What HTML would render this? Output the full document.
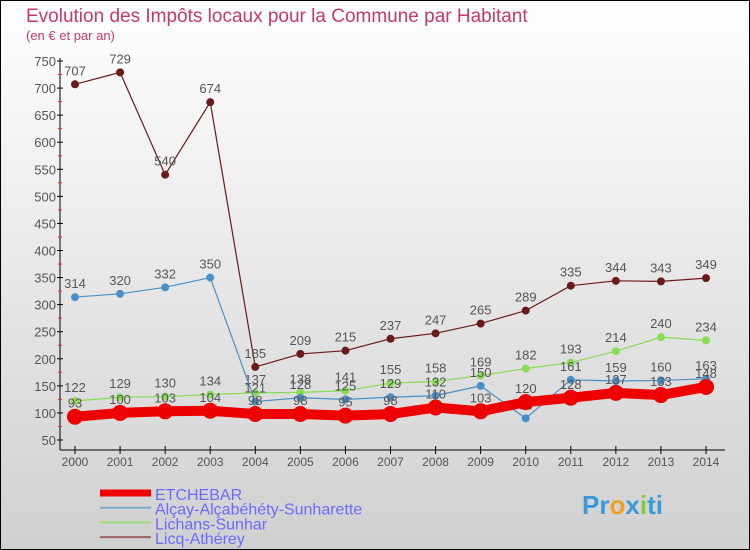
<!DOCTYPE html>
<html><head><meta charset="utf-8"><style>
body{margin:0}
svg{display:block;font-family:"Liberation Sans",sans-serif}
</style></head><body>
<svg id="c" width="750" height="550" xmlns="http://www.w3.org/2000/svg">
<defs><linearGradient id="bg" x1="0" y1="0" x2="0" y2="1"><stop offset="0" stop-color="#ffffff"/><stop offset="1" stop-color="#d0d0d0"/></linearGradient></defs>
<rect x="0" y="0" width="750" height="550" fill="url(#bg)" stroke="#000" stroke-width="2"/>
<text x="26" y="22" font-size="19" fill="#c8386a">Evolution des Impôts locaux pour la Commune par Habitant</text>
<text x="26" y="40" font-size="13" fill="#c8386a">(en € et par an)</text>
<g id="axes"></g><g id="series"></g><g id="legend"></g>
</svg>
<script>
const years=[2000,2001,2002,2003,2004,2005,2006,2007,2008,2009,2010,2011,2012,2013,2014];
const yTicks=[50,100,150,200,250,300,350,400,450,500,550,600,650,700,750];
const etchebar=[93,100,103,104,98,98,95,98,110,103,120,128,137,133,148];
const alcay=[314,320,332,350,121,128,125,129,132,150,90,161,159,160,163];
const lichans=[122,129,130,134,137,138,141,155,158,169,182,193,214,240,234];
const licq=[707,729,540,674,185,209,215,237,247,265,289,335,344,343,349];
const NS="http://www.w3.org/2000/svg";
const X=i=>75+i*(706-75)/(years.length-1);
const Y=v=>440-(v-50)*(379/700);
function mk(p,t,a){const e=document.createElementNS(NS,t);for(const k in a)e.setAttribute(k,a[k]);p.appendChild(e);return e;}
const ax=document.getElementById('axes');
let yl=mk(ax,'line',{x1:60,y1:58,x2:60,y2:450,stroke:'#000','stroke-width':1});


let xl=mk(ax,'line',{x1:60,y1:450,x2:725,y2:450,stroke:'#000','stroke-width':1});


yTicks.forEach((v,k)=>{
 mk(ax,'line',{x1:57,y1:Y(v),x2:63,y2:Y(v),stroke:'#000'});
 if(k<yTicks.length-1)mk(ax,'line',{x1:58,y1:Y(v+25),x2:62,y2:Y(v+25),stroke:'#e03030'});
 const t=mk(ax,'text',{x:56,y:Y(v)+5,'text-anchor':'end','font-size':13,fill:'#555'});t.textContent=v;
 
 
});
years.forEach((y,i)=>{
 mk(ax,'line',{x1:X(i),y1:446,x2:X(i),y2:454,stroke:'#000'});
 const t=mk(ax,'text',{x:X(i),y:466,'text-anchor':'middle','font-size':12,fill:'#555'});t.textContent=y;
 
 
});
const S=document.getElementById('series');
function series(vals,color,lw,r,name){
 const g=mk(S,'g',{});
 
 
 mk(g,'polyline',{points:vals.map((v,i)=>X(i)+','+Y(v)).join(' '),fill:'none',stroke:color,'stroke-width':lw,'stroke-linejoin':'round'});
 vals.forEach((v,i)=>{
  const c=mk(g,'circle',{cx:X(i),cy:Y(v),r:r,fill:color});
  
  
  const t=mk(g,'text',{x:X(i),y:Y(v)-9,'text-anchor':'middle','font-size':13,fill:'#555'});t.textContent=v;
  
  
 });
}
series(licq,'#6b1a1a',1.2,4,'licq-series');
series(lichans,'#88dd55',1.2,4,'lichans-series');
series(alcay,'#4a90c8',1.2,4,'alcay-series');
series(etchebar,'#ee0000',10,8,'etchebar-series');
const L=document.getElementById('legend');
[['ETCHEBAR','#ee0000',7],['Alçay-Alçabéhéty-Sunharette','#7aaed0',2],['Lichans-Sunhar','#99dd77',2],['Licq-Athérey','#9a6060',2]].forEach((d,k)=>{
 const y=493+k*14.7;
 const g=mk(L,'g',{});
 
 
 mk(g,'line',{x1:100,y1:y,x2:151,y2:y,stroke:d[1],'stroke-width':d[2]});
 const t=mk(g,'text',{x:155,y:y+7,'font-size':16,fill:'#6a6aff'});t.textContent=d[0];
});
const p=mk(L,'text',{x:582,y:514,'font-size':26,'font-weight':'bold',fill:'#3a9ad8'});


[['Pr','#3a9ad8'],['o','#f0a020'],['x','#3a9ad8'],['i','#88cc33'],['ti','#3a9ad8']].forEach(s=>{const ts=mk(p,'tspan',{fill:s[1]});ts.textContent=s[0];});
</script>
</body></html>
